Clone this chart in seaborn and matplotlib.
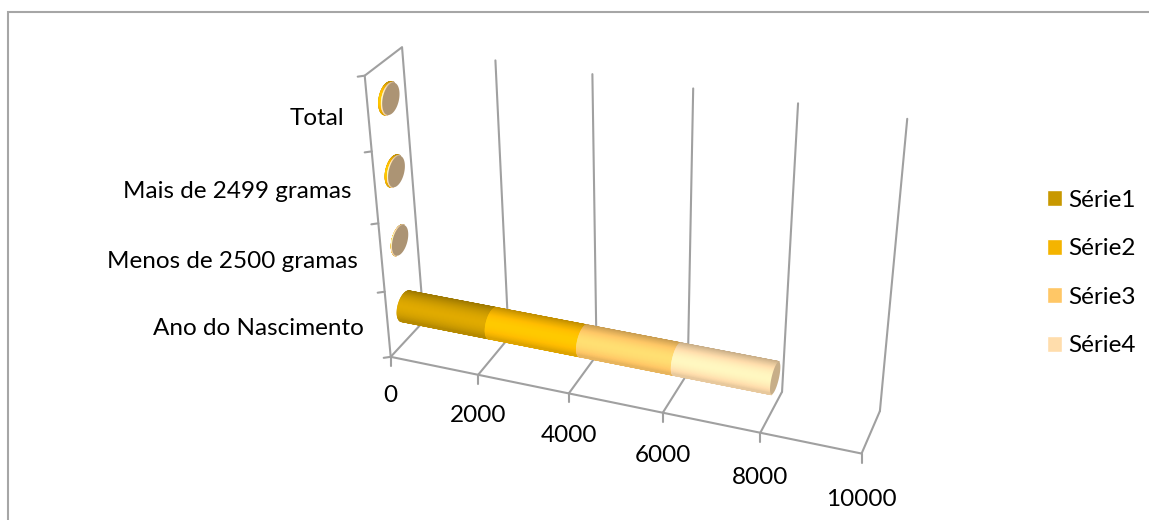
import numpy as np
import pandas as pd
import matplotlib
matplotlib.use("Agg")
import matplotlib.pyplot as plt
from matplotlib.collections import PolyCollection
from matplotlib.patches import Polygon
import seaborn as sns

# Data
categories = ["Ano do Nascimento", "Menos de 2500 gramas", "Mais de 2499 gramas", "Total"]
serie1 = [2007, 1, 2, 3]
serie2 = [2008, 2, 50, 55]
serie3 = [2009, 2, 3, 5]
serie4 = [2010, 3, 4, 7]
series_names = ["Série1", "Série2", "Série3", "Série4"]
series_colors = ["#C89800", "#F4B400", "#FFC766", "#FFDDAC"]
value_ticks = [0, 2000, 4000, 6000, 8000, 10000]
value_max = 10000

GRID = "#A0A0A0"
FRAME = "#A6A6A6"
FONT_SIZE = 17.5

sns.set_theme(style="white")
plt.rcParams["font.family"] = ["Lato", "DejaVu Sans"]

# Camera: a projective map from (value, height, depth) in unit cube to canvas pixels,
# calibrated on the walls and floor of the box.
anchors = [
    ((0.0, 0, 0), (391, 355)), ((0.2, 0, 0), (478, 373)), ((0.4, 0, 0), (569, 393)),
    ((0.6, 0, 0), (663, 413)), ((0.8, 0, 0), (760, 434)), ((1.0, 0, 0), (862, 455)),
    ((0.0, 1, 0), (364, 77)), ((0.0, 0, 1), (423, 325)), ((0.0, 1, 1), (403, 46)),
    ((0.2, 1, 1), (496, 60)), ((0.4, 1, 1), (592, 74)), ((0.6, 1, 1), (693, 88)),
    ((0.8, 1, 1), (797, 103)), ((1.0, 1, 1), (908, 120)),
    ((0.8, 0, 1), (783, 390)), ((1.0, 0, 1), (879, 410)),
]
rows = []
for (v, h, d), (px, py) in anchors:
    rows.append([v, h, d, 1, 0, 0, 0, 0, -px * v, -px * h, -px * d, -px])
    rows.append([0, 0, 0, 0, v, h, d, 1, -py * v, -py * h, -py * d, -py])
camera = np.linalg.svd(np.array(rows, float))[2][-1].reshape(3, 4)


def project(v, h, d):
    v, h, d = np.broadcast_arrays(np.asarray(v, float), np.asarray(h, float), np.asarray(d, float))
    pts = np.stack([v, h, d, np.ones_like(v)])
    x, y, w = np.tensordot(camera, pts, axes=1)
    return x / w, y / w


fig = plt.figure(figsize=(11.49, 5.2), dpi=100)
main = fig.add_axes([0, 0, 1, 1])
main.set_xlim(0, 1149)
main.set_ylim(520, 0)
main.axis("off")

# Stacked horizontal bars on a helper axes; their extents feed the cylinders below.
flat = fig.add_axes([0, 0, 1, 1])
flat.set_visible(False)
table = pd.DataFrame({"categoria": categories, **dict(zip(series_names, [serie1, serie2, serie3, serie4]))})
left = np.zeros(len(categories))
for name, color in zip(series_names, series_colors):
    sns.barplot(data=table, y="categoria", x=name, order=categories, color=color, saturation=1,
                left=left, label=name, orient="h", ax=flat)
    left = left + table[name].to_numpy()

# Outer frame of the chart area
main.plot([8, 8, 1149], [520, 12, 12], color=FRAME, lw=1.5, zorder=1, solid_joinstyle="miter")


def line(v, h, d, **kw):
    x, y = project(v, h, d)
    main.plot(x, y, color=GRID, lw=1.5, solid_capstyle="round", zorder=2, **kw)


# Box edges and gridlines
line([0, 1], 0, 0)
line(0, [0, 1, 1, 0], [0, 0, 1, 1])
line(0, 0, [0, 1])
for t in value_ticks[1:]:
    u = t / value_max
    line(u, 0, [0, 1])
    line(u, [0, 1], 1)

# Value axis ticks and labels
for t in value_ticks:
    u = t / value_max
    x, y = project(u, 0, 0)
    main.plot([x, x], [y, y + 9], color=GRID, lw=1.5, zorder=2)
    main.text(x, y + 39 + 7 * u, str(t), ha="center", va="center", fontsize=FONT_SIZE, color="black")

# Category axis ticks and labels
n = len(categories)
for i in range(n + 1):
    x, y = project(0, i / n, 0)
    main.plot([x - 7, x], [y + 1, y], color=GRID, lw=1.5, zorder=2)
for i, name in enumerate(categories):
    x, y = project(0, (i + 0.5) / n, 0)
    main.text(x - 24, y + 4, name, ha="right", va="center", fontsize=FONT_SIZE, color="black")


def shade(color, f):
    return tuple(np.clip(np.array(matplotlib.colors.to_rgb(color)) * f, 0, 1))


RADIUS_H = 0.049
RADIUS_D = 0.235
DEPTH_C = 0.52
theta = np.linspace(0, 2 * np.pi, 97)


def ring(u, h0):
    return project(u, h0 + RADIUS_H * np.sin(theta), DEPTH_C + RADIUS_D * np.cos(theta))


def cylinder(u0, u1, h0, color, z):
    xa, ya = ring(u0, h0)
    xb, yb = ring(u1, h0)
    quads = np.stack([np.column_stack([xa[:-1], ya[:-1]]), np.column_stack([xb[:-1], yb[:-1]]),
                      np.column_stack([xb[1:], yb[1:]]), np.column_stack([xa[1:], ya[1:]])], axis=1)
    ax0, ay0 = project(u0, h0, DEPTH_C)
    ax1, ay1 = project(u1, h0, DEPTH_C)
    dx, dy = ax1 - ax0, ay1 - ay0
    dn = np.hypot(dx, dy) or 1.0
    # Signed offset from the axis, across the cylinder on screen
    mid = quads.mean(axis=1)
    off = ((mid[:, 1] - (ay0 + ay1) / 2) * dx - (mid[:, 0] - (ax0 + ax1) / 2) * dy) / dn
    off = off / np.abs(off).max()
    # Facing test through the projected winding of each strip
    px, py = quads[:, :, 0], quads[:, :, 1]
    area = 0.5 * np.sum(px * np.roll(py, -1, axis=1) - np.roll(px, -1, axis=1) * py, axis=1)
    front_strip = np.argmin(np.abs(theta[:-1] + np.pi / 96 - np.pi))
    visible = np.sign(area) == np.sign(area[front_strip])
    # Paint from the upper silhouette downwards so neighbouring strips blend without seams
    order = np.argsort(off[visible])
    t = (off[visible][order] + 1) / 2
    lum = 0.78 + 0.34 * np.clip(1 - ((t - 0.56) / 0.56) ** 2, 0, 1)
    cols = [shade(color, f) for f in lum]
    main.add_collection(PolyCollection(quads[visible][order], facecolors=cols, edgecolors=cols,
                                       linewidths=1.2, zorder=z))


# Turn each stacked bar into a cylinder along the value axis
tips = {}
for container, color in zip(flat.containers, series_colors):
    for patch in container:
        i = int(round(patch.get_y() + patch.get_height() / 2))
        u0 = patch.get_x() / value_max
        u1 = (patch.get_x() + patch.get_width()) / value_max
        h0 = (i + 0.5) / n
        cylinder(u0, u1, h0, color, 3 + 0.1 * series_colors.index(color))
        tips[i] = (u1, h0)

for i, (u1, h0) in tips.items():
    xc, yc = ring(u1, h0)
    cap = "#C7AE88" if u1 > 0.1 else "#AC9474"
    main.add_patch(Polygon(np.column_stack([xc, yc]), closed=True, facecolor=cap, edgecolor="none", zorder=4))

# Legend with one swatch per series
handles, labels = flat.get_legend_handles_labels()
main.legend(handles, labels, loc="upper left", bbox_to_anchor=(1040 / 1149, 1 - 182.5 / 520),
            frameon=False, fontsize=FONT_SIZE, handlelength=0.62, handleheight=0.62, labelcolor="black",
            handletextpad=0.25, labelspacing=1.13, borderpad=0.3, borderaxespad=0)

fig.savefig("out.png", dpi=100)
